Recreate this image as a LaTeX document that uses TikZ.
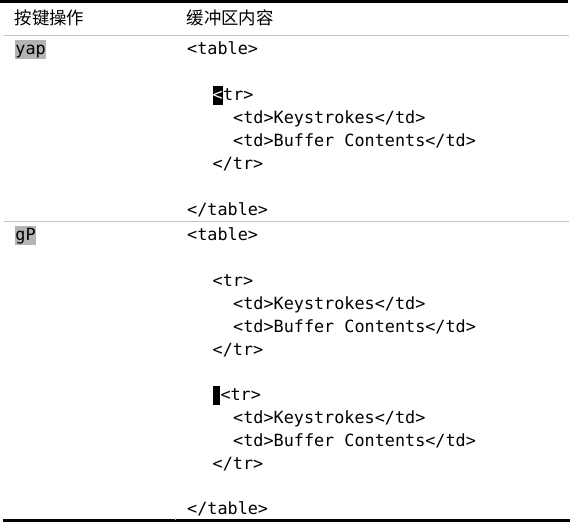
\documentclass[tikz,border=0pt]{standalone}
\usepackage{fontspec}
\setmonofont{DejaVu Sans Mono}
\newfontfamily\cjk{Noto Sans CJK SC}
\definecolor{rulegray}{HTML}{C4C4C4}
\definecolor{hlgray}{HTML}{B4B4B4}
\tikzset{
  code/.style={anchor=base west, inner sep=0pt, font=\ttfamily\fontsize{16.8bp}{20bp}\selectfont},
  head/.style={anchor=base west, inner sep=0pt, font=\cjk\fontsize{17.4bp}{20bp}\selectfont},
  keyhl/.style={code, fill=hlgray, text height=14.5bp, text depth=4.5bp},
  curs/.style={code, fill=black, text=white, text height=14.5bp, text depth=4.5bp},
  thickrule/.style={line width=3bp, black},
  thinrule/.style={line width=1.6bp, rulegray},
}
\begin{document}
\begin{tikzpicture}[x=1bp,y=-1bp]
\useasboundingbox (0,0) rectangle (570,527);
% rules
\coordinate (t0) at (0,1.4); \coordinate (t1) at (568,1.4);
\draw[thickrule] (t0) -- (t1);
\coordinate (h0) at (4,35.5); \coordinate (h1) at (569,35.5);
\draw[thinrule] (h0) -- (h1);
\coordinate (m0) at (4,221.5); \coordinate (m1) at (569,221.5);
\draw[thinrule] (m0) -- (m1);
\coordinate (b0) at (3,520.8); \coordinate (b1) at (570,520.8);
\draw[thickrule] (b0) -- (b1);
\coordinate (k0) at (175,518.3); \coordinate (k1) at (175,519.5);
\draw[line width=0.8bp, rulegray] (k0) -- (k1);
% header
\node[head] (hk) at (14.5,24.3) {按键操作};
\node[head] (hb) at (186.5,24.3) {缓冲区内容};
% row 1
\node[keyhl] (yap) at (15.3,55) {yap};
\node[code] (r1a) at (187,55) {<table>};
\node[curs] (cur1) at (212.5,101) {<};
\node[code] (r1b) at (cur1.base east) {tr>};
\node[code] (r1c) at (233,124) {<td>Keystrokes</td>};
\node[code] (r1d) at (233,147) {<td>Buffer Contents</td>};
\node[code] (r1e) at (212.5,170) {</tr>};
\node[code] (r1f) at (187,216) {</table>};
% row 2
\node[keyhl] (gP) at (15.3,240.8) {gP};
\node[code] (r2a) at (187,240.8) {<table>};
\node[code] (r2b) at (212.5,286.5) {<tr>};
\node[code] (r2c) at (233,309.3) {<td>Keystrokes</td>};
\node[code] (r2d) at (233,332.1) {<td>Buffer Contents</td>};
\node[code] (r2e) at (212.5,355.0) {</tr>};
\node[code, fill=black, minimum width=7bp, text height=14.5bp, text depth=4.5bp] (cur2) at (212.3,400.6) {};
\node[code] (r2f) at (220.3,400.6) {<tr>};
\node[code] (r2g) at (233,423.5) {<td>Keystrokes</td>};
\node[code] (r2h) at (233,446.3) {<td>Buffer Contents</td>};
\node[code] (r2i) at (212.5,469.1) {</tr>};
\node[code] (r2j) at (187,514.8) {</table>};
\end{tikzpicture}
\end{document}
